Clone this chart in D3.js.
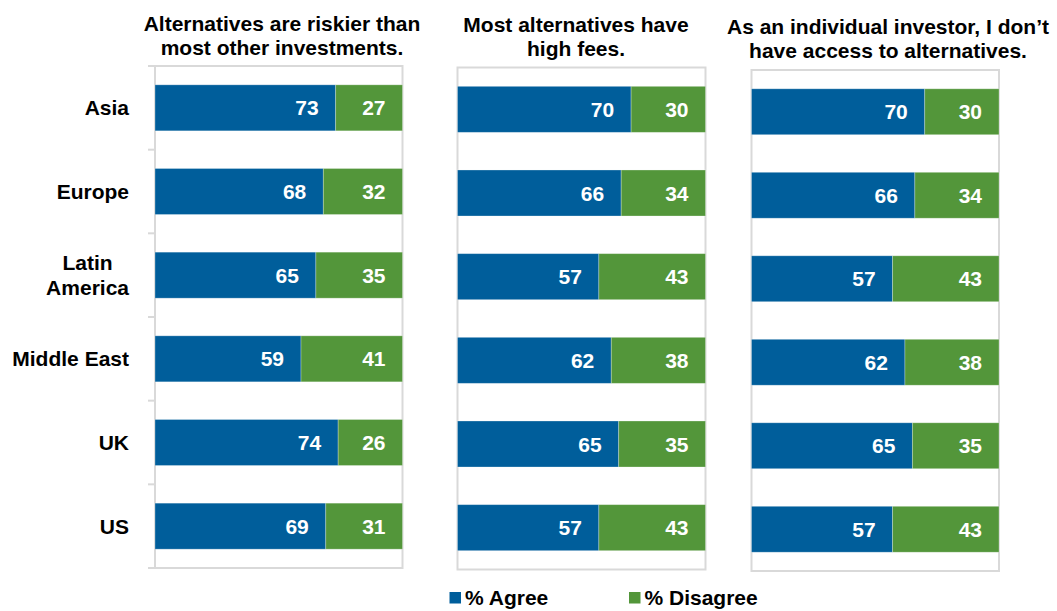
<!DOCTYPE html>
<html>
<head>
<meta charset="utf-8">
<script src="https://cdn.jsdelivr.net/npm/d3@7"></script>
<style>
  html, body { margin: 0; padding: 0; background: #fff; }
  svg { display: block; font-family: "Liberation Sans", Arial, Helvetica, sans-serif; font-weight: bold; }
</style>
</head>
<body>
<svg id="chart" width="1057" height="611"></svg>
<script>
// Survey answers by region, one panel per statement
const regions = ["Asia", "Europe", "Latin America", "Middle East", "UK", "US"];
const statements = [
  ["Alternatives are riskier than", "most other investments."],
  ["Most alternatives have", "high fees."],
  ["As an individual investor, I don\u2019t", "have access to alternatives."]
];
const seriesNames = ["% Agree", "% Disagree"];

const agreeRisk = [73, 68, 65, 59, 74, 69];
const disagreeRisk = [27, 32, 35, 41, 26, 31];
const agreeFees = [70, 66, 57, 62, 65, 57];
const disagreeFees = [30, 34, 43, 38, 35, 43];
const agreeAccess = [70, 66, 57, 62, 65, 57];
const disagreeAccess = [30, 34, 43, 38, 35, 43];

const agreeSets = [agreeRisk, agreeFees, agreeAccess];
const disagreeSets = [disagreeRisk, disagreeFees, disagreeAccess];

const colors = ["#005e9b", "#53963a"];
const borderColor = "#d9d9d9";
const fontSize = 21;

// Plot frames for the three panels
const frames = [
  { x0: 155, x1: 402.5, y0: 66, y1: 568, titleX: 282, titleY: 30.5 },
  { x0: 457.5, x1: 705.5, y0: 67.5, y1: 569.5, titleX: 576, titleY: 31.5 },
  { x0: 751.5, x1: 999, y0: 70, y1: 571, titleX: 888, titleY: 33.5 }
];

const svg = d3.select("#chart");

frames.forEach((f, pi) => {
  const g = svg.append("g");
  const x = d3.scaleLinear().domain([0, 100]).range([f.x0, f.x1]);
  const y = d3.scaleBand().domain(regions).range([f.y0, f.y1]).paddingInner(0.45).paddingOuter(0.225);
  const yb = d3.scaleBand().domain(regions).range([f.y0, f.y1]);

  // panel frame
  g.append("rect")
    .attr("x", f.x0).attr("y", f.y0)
    .attr("width", f.x1 - f.x0).attr("height", f.y1 - f.y0)
    .attr("fill", "none").attr("stroke", borderColor).attr("stroke-width", 2);

  // category axis with tick marks on the first panel only
  if (pi === 0) {
    const bounds = regions.map(r => yb(r)).concat([f.y1]);
    g.selectAll("line.tick").data(bounds).join("line")
      .attr("class", "tick")
      .attr("x1", f.x0 - 7).attr("x2", f.x0)
      .attr("y1", d => d).attr("y2", d => d)
      .attr("stroke", borderColor).attr("stroke-width", 2);

    const labels = g.selectAll("text.cat").data(regions).join("text")
      .attr("class", "cat")
      .attr("font-size", fontSize)
      .attr("fill", "#000");
    labels.each(function (d) {
      const t = d3.select(this);
      const words = d === "Latin America" ? ["Latin", "America"] : [d];
      const cy = yb(d) + yb.bandwidth() / 2;
      const lh = 25;
      words.forEach((w, i) => {
        t.append("tspan").text(w)
          .attr("y", cy + (i - (words.length - 1) / 2) * lh)
          .attr("dy", "0.36em");
      });
      // right-align the block, centre its lines on each other
      let maxW = 0;
      t.selectAll("tspan").each(function () { maxW = Math.max(maxW, this.getComputedTextLength()); });
      t.attr("text-anchor", "middle");
      t.selectAll("tspan").attr("x", 129 - maxW / 2);
    });
  }

  const agree = agreeSets[pi];
  const disagree = disagreeSets[pi];
  const rows = regions.map((r, i) => ({ r, a: agree[i], d: disagree[i] }));

  // agree segments
  g.selectAll("rect.agree").data(rows).join("rect")
    .attr("class", "agree")
    .attr("x", d => x(0)).attr("y", d => y(d.r))
    .attr("width", d => x(d.a) - x(0)).attr("height", y.bandwidth())
    .attr("fill", colors[0])
    .attr("stroke", "#fff").attr("stroke-opacity", 0.35).attr("stroke-width", 0.8);

  // disagree segments
  g.selectAll("rect.disagree").data(rows).join("rect")
    .attr("class", "disagree")
    .attr("x", d => x(d.a)).attr("y", d => y(d.r))
    .attr("width", d => x(d.a + d.d) - x(d.a)).attr("height", y.bandwidth())
    .attr("fill", colors[1])
    .attr("stroke", "#fff").attr("stroke-opacity", 0.35).attr("stroke-width", 0.8);

  // value labels inside the end of each segment
  const pad = 17;
  g.selectAll("text.va").data(rows).join("text")
    .attr("class", "va")
    .attr("x", d => x(d.a) - pad).attr("y", d => y(d.r) + y.bandwidth() / 2)
    .attr("dy", "0.36em").attr("text-anchor", "end")
    .attr("font-size", fontSize).attr("fill", "#fff")
    .text(d => d.a);
  g.selectAll("text.vd").data(rows).join("text")
    .attr("class", "vd")
    .attr("x", d => x(d.a + d.d) - pad).attr("y", d => y(d.r) + y.bandwidth() / 2)
    .attr("dy", "0.36em").attr("text-anchor", "end")
    .attr("font-size", fontSize).attr("fill", "#fff")
    .text(d => d.d);

  // panel title
  const title = g.append("text")
    .attr("text-anchor", "middle").attr("font-size", fontSize).attr("fill", "#000");
  statements[pi].forEach((line, i) => {
    title.append("tspan").attr("x", f.titleX).attr("y", f.titleY + i * 24).text(line);
  });
});

// legend
const legend = svg.append("g");
const legendX = [449.5, 629];
seriesNames.forEach((name, i) => {
  legend.append("rect")
    .attr("x", legendX[i]).attr("y", 592).attr("width", 11.5).attr("height", 11.5)
    .attr("fill", colors[i]);
  legend.append("text")
    .attr("x", legendX[i] + 15.5).attr("y", 604.5)
    .attr("font-size", fontSize).attr("fill", "#000")
    .text(name);
});
</script>
</body>
</html>
